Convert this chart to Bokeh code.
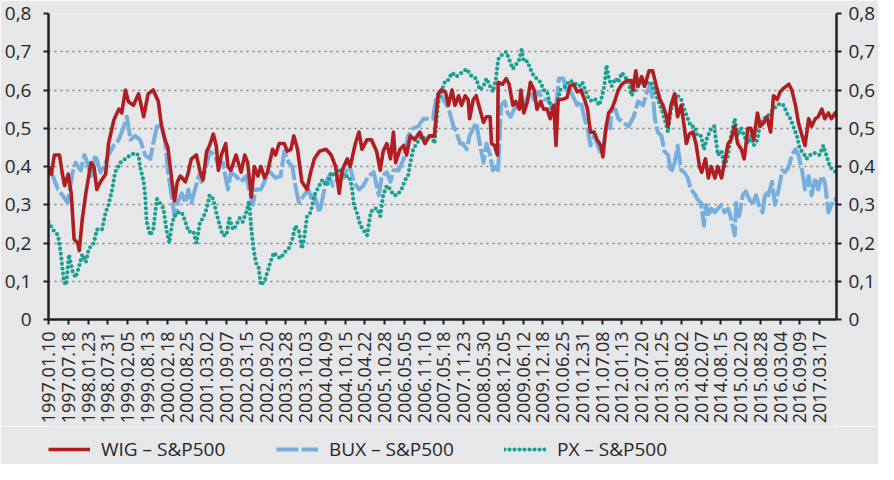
from bokeh.plotting import figure
from bokeh.layouts import column
from bokeh.models import (Range1d, LinearAxis, FixedTicker, CustomJSTickFormatter,
                          Legend, LegendItem)
from bokeh.embed import file_html
from bokeh.resources import INLINE

# ---------------- data (week index from 1997.01.10, value) ----------------
tick_labels = ["1997.01.10", "1997.07.18", "1998.01.23", "1998.07.31", "1999.02.05",
               "1999.08.13", "2000.02.18", "2000.08.25", "2001.03.02", "2001.09.07",
               "2002.03.15", "2002.09.20", "2003.03.28", "2003.10.03", "2004.04.09",
               "2004.10.15", "2005.04.22", "2005.10.28", "2006.05.05", "2006.11.10",
               "2007.05.18", "2007.11.23", "2008.05.30", "2008.12.05", "2009.06.12",
               "2009.12.18", "2010.06.25", "2010.12.31", "2011.07.08", "2012.01.13",
               "2012.07.20", "2013.01.25", "2013.08.02", "2014.02.07", "2014.08.15",
               "2015.02.20", "2015.08.28", "2016.03.04", "2016.09.09", "2017.03.17"]
weeks_between_labels = 27
last_week = 1076

wig_week = [0, 4, 8, 15, 19, 22, 27, 31, 35, 40, 42, 46, 51, 58, 62, 66, 71, 78, 82, 89, 96, 100,
            105, 109, 116, 123, 130, 136, 143, 150, 154, 159, 163, 168, 172,
            176, 180, 187, 191, 195, 202, 207, 211, 216, 220, 225, 229, 232, 236, 242, 245, 249,
            256, 263, 268, 272, 277, 281, 286, 290, 295, 299, 306, 310, 315, 322, 326, 331, 335,
            340, 346, 353,
            358, 363, 370, 379, 386, 392, 397, 401, 408, 412, 419, 424, 428, 435, 441, 448, 453,
            457, 462, 467, 471, 474, 480, 485, 489, 494, 500, 507, 514, 520, 527, 532, 536,
            542, 546, 551, 555, 560, 564, 569, 573, 575, 580, 584, 589, 594, 598, 603, 605, 609,
            613, 614, 620, 625, 629, 634, 638, 643, 645, 649, 654, 658, 663, 667, 672, 676, 681,
            685, 690, 693, 696, 701, 708, 712, 717,
            722, 727, 732, 736, 740, 745, 749, 754, 757, 761, 765, 769, 774, 778, 783, 790, 796,
            798, 802, 805, 810, 814, 820, 825, 830, 835, 839, 844, 846, 850, 855, 859, 864, 868,
            871, 875, 880, 884, 889, 892,
            897, 901, 905, 910, 914, 919, 923, 928, 932, 937, 941, 946, 950, 955, 959, 963, 968,
            972, 977, 981, 986, 990, 995, 999, 1004, 1011, 1015, 1020, 1024, 1029, 1033, 1038,
            1042, 1047, 1051, 1056, 1060, 1065, 1069, 1074, 1076]
wig_value = [0.40, 0.38, 0.43, 0.43, 0.38, 0.35, 0.38, 0.33, 0.21, 0.20, 0.18, 0.26, 0.33, 0.41,
             0.40, 0.34, 0.36, 0.38, 0.46, 0.52, 0.55, 0.54, 0.60, 0.57, 0.56, 0.59, 0.53, 0.59,
             0.60, 0.57, 0.51, 0.47, 0.45, 0.37, 0.31,
             0.36, 0.375, 0.36, 0.385, 0.42, 0.43, 0.385, 0.365, 0.44, 0.455, 0.485, 0.455, 0.39,
             0.43, 0.46, 0.40, 0.39, 0.43, 0.385, 0.43, 0.41, 0.32, 0.40, 0.375, 0.40, 0.37,
             0.385, 0.445, 0.43, 0.46, 0.46, 0.44, 0.445, 0.48, 0.445, 0.36, 0.34,
             0.385, 0.42, 0.44, 0.445, 0.43, 0.40, 0.33, 0.39, 0.42, 0.40, 0.46, 0.49, 0.445,
             0.47, 0.47, 0.44, 0.39, 0.44, 0.46, 0.42, 0.49, 0.41, 0.445, 0.455, 0.43, 0.48, 0.47,
             0.49, 0.46, 0.48, 0.48, 0.59, 0.60,
             0.595, 0.56, 0.60, 0.56, 0.585, 0.56, 0.585, 0.575, 0.525, 0.575, 0.585, 0.55, 0.515,
             0.53, 0.53, 0.46, 0.455, 0.43, 0.62, 0.615, 0.63, 0.615, 0.56, 0.57, 0.55, 0.60,
             0.54, 0.57, 0.62, 0.60, 0.55, 0.57, 0.55, 0.55, 0.525, 0.56, 0.455, 0.575, 0.575,
             0.58, 0.61, 0.615,
             0.595, 0.60, 0.575, 0.55, 0.49, 0.49, 0.47, 0.455, 0.425, 0.50, 0.54, 0.55, 0.575,
             0.60, 0.615, 0.625, 0.625, 0.60, 0.65, 0.61, 0.635, 0.61, 0.65, 0.65, 0.61, 0.575,
             0.56, 0.53, 0.505, 0.56, 0.59, 0.53, 0.56, 0.505, 0.46, 0.485, 0.49, 0.46, 0.40, 0.385,
             0.42, 0.37, 0.40, 0.37, 0.40, 0.37, 0.41, 0.46, 0.47, 0.505, 0.46, 0.445, 0.42, 0.50,
             0.50, 0.47, 0.54, 0.505, 0.515, 0.53, 0.49, 0.585, 0.575, 0.595, 0.605, 0.615, 0.60,
             0.56, 0.515, 0.48, 0.455, 0.525, 0.505, 0.525, 0.53, 0.55, 0.525, 0.54, 0.525, 0.54,
             0.53]

bux_week = [0, 6, 13, 19, 26, 33, 37, 44, 49, 53, 58, 64, 71, 76, 82, 89, 96, 103, 107, 112, 118,
            125, 132, 139, 143, 148, 154, 159, 163, 168, 172, 177,
            182, 187, 191, 195, 200, 205, 209, 214, 220, 227, 232, 238, 245, 249, 256, 263, 270,
            274, 279, 283, 290, 297, 303, 310, 317, 322, 328, 333, 337, 342, 349, 355,
            360, 363, 370, 374, 379, 383, 388, 392, 397, 403, 410, 417, 424, 430, 437, 444, 451,
            455, 462, 467, 471, 478, 485, 491, 498, 505, 512, 518, 525, 529, 534, 539,
            544, 548, 553, 557, 562, 566, 571, 575, 580, 584, 589, 594, 598, 603, 607, 611, 614,
            618, 623, 627, 631, 636, 640, 645, 649, 654, 658, 663, 669, 676, 681, 687, 692, 697,
            703, 708, 712, 717,
            722, 727, 732, 736, 740, 745, 749, 754, 758, 763, 767, 769, 774, 778, 785, 792, 799,
            805, 812, 817, 821, 826, 828, 832, 837, 841, 846, 850, 855, 859, 864, 868, 873, 877,
            882, 886, 891, 895, 898,
            901, 905, 910, 914, 919, 923, 928, 932, 937, 939, 943, 948, 952, 957, 961, 966, 970,
            975, 979, 983, 988, 992, 997, 1002, 1006, 1011, 1015, 1020, 1024, 1029, 1033, 1038,
            1042, 1047, 1051, 1056, 1060, 1065, 1069, 1074, 1076]
bux_value = [0.39, 0.375, 0.34, 0.325, 0.305, 0.385, 0.41, 0.39, 0.43, 0.41, 0.375, 0.43, 0.385,
             0.40, 0.43, 0.455, 0.47, 0.505, 0.53, 0.47, 0.48, 0.47, 0.43, 0.42, 0.46, 0.505,
             0.505, 0.47, 0.39, 0.325, 0.27, 0.31,
             0.33, 0.305, 0.34, 0.305, 0.34, 0.375, 0.36, 0.39, 0.44, 0.43, 0.40, 0.41, 0.34,
             0.385, 0.375, 0.36, 0.375, 0.34, 0.30, 0.34, 0.34, 0.37, 0.385, 0.37, 0.375, 0.44,
             0.41, 0.40, 0.35, 0.305, 0.325, 0.34,
             0.31, 0.325, 0.28, 0.315, 0.36, 0.375, 0.35, 0.36, 0.375, 0.37, 0.41, 0.36, 0.34,
             0.35, 0.375, 0.385, 0.325, 0.375, 0.385, 0.36, 0.39, 0.39, 0.42, 0.48, 0.50, 0.505,
             0.525, 0.525, 0.525, 0.575, 0.595, 0.575,
             0.56, 0.54, 0.505, 0.49, 0.46, 0.46, 0.445, 0.48, 0.50, 0.515, 0.46, 0.41, 0.46, 0.43,
             0.39, 0.40, 0.39, 0.56, 0.57, 0.54, 0.53, 0.55, 0.56, 0.575, 0.56, 0.58, 0.595,
             0.575, 0.595, 0.575, 0.575, 0.56, 0.54, 0.63, 0.63, 0.595, 0.60, 0.58,
             0.56, 0.57, 0.525, 0.50, 0.455, 0.48, 0.46, 0.435, 0.46, 0.515, 0.50, 0.55, 0.55,
             0.525, 0.515, 0.505, 0.53, 0.57, 0.56, 0.595, 0.61, 0.57, 0.525, 0.49, 0.48, 0.44,
             0.43, 0.385, 0.41, 0.455, 0.39, 0.385, 0.37, 0.34, 0.33, 0.315, 0.305, 0.245, 0.30,
             0.27, 0.29, 0.28, 0.29, 0.30, 0.28, 0.29, 0.265, 0.22, 0.305, 0.27, 0.325, 0.335,
             0.315, 0.30, 0.325, 0.30, 0.28, 0.335, 0.325, 0.36, 0.30, 0.34, 0.39, 0.385, 0.40,
             0.43, 0.445, 0.43, 0.39, 0.34, 0.375, 0.325, 0.37, 0.34, 0.375, 0.36, 0.28, 0.30,
             0.315, 0.31]

px_week = [0, 6, 13, 17, 21, 24, 28, 33, 37, 42, 46, 51, 55, 62, 66, 73, 78, 82, 87, 91, 98, 105,
           112, 118, 123, 125, 130, 132, 134, 139, 143, 148, 152, 157, 161, 165, 169, 175,
           182, 187, 191, 198, 202, 207, 211, 216, 220, 225, 229, 234, 238, 243, 247, 252, 256,
           261, 265, 270, 274, 277, 280, 283, 287, 290, 295, 299, 303, 308, 312, 317, 322, 328,
           333, 337, 342, 346, 349, 353, 358,
           363, 367, 374, 380, 386, 390, 397, 403, 410, 414, 417, 421, 426, 430, 435, 440, 444,
           449, 453, 457, 462, 467, 471, 476, 482, 487, 491, 494, 498, 503, 509, 516, 523, 527,
           532, 536, 541,
           544, 551, 557, 564, 571, 578, 584, 589, 594, 598, 603, 607, 611, 614, 618, 625, 629,
           634, 638, 643, 646, 649, 654, 658, 663, 667, 672, 676, 681, 685, 690, 694, 699, 706,
           712, 717,
           725, 729, 734, 738, 743, 747, 752, 756, 759, 762, 765, 769, 774, 778, 783, 787, 792,
           796, 801, 805, 810, 814, 819, 823, 828, 832, 837, 841, 846, 850, 855, 859, 864, 868,
           873, 877, 882, 886, 891, 895, 900, 903,
           905, 909, 912, 914, 919, 923, 928, 932, 937, 941, 946, 950, 955, 959, 963, 968, 972,
           977, 981, 986, 990, 995, 999, 1004, 1008, 1013, 1017, 1022, 1026, 1031, 1035, 1040,
           1044, 1049, 1053, 1058, 1062, 1067, 1071, 1076]
px_value = [0.255, 0.235, 0.22, 0.17, 0.10, 0.09, 0.17, 0.125, 0.11, 0.14, 0.17, 0.15, 0.185, 0.20,
            0.235, 0.235, 0.28, 0.30, 0.34, 0.385, 0.41, 0.42, 0.43, 0.435, 0.43, 0.40, 0.36,
            0.325, 0.255, 0.22, 0.235, 0.315, 0.305, 0.29, 0.235, 0.20, 0.255, 0.28,
            0.28, 0.255, 0.23, 0.23, 0.20, 0.255, 0.265, 0.29, 0.325, 0.315, 0.28, 0.245, 0.22,
            0.22, 0.265, 0.235, 0.245, 0.265, 0.255, 0.28, 0.31, 0.235, 0.185, 0.15, 0.135, 0.09,
            0.10, 0.125, 0.15, 0.175, 0.165, 0.16, 0.175, 0.185, 0.21, 0.245, 0.23, 0.185, 0.21,
            0.27, 0.28,
            0.325, 0.34, 0.365, 0.35, 0.385, 0.375, 0.39, 0.375, 0.375, 0.35, 0.30, 0.28, 0.245,
            0.235, 0.22, 0.28, 0.29, 0.29, 0.27, 0.325, 0.35, 0.34, 0.325, 0.325, 0.34, 0.365,
            0.375, 0.41, 0.445, 0.46, 0.48, 0.47, 0.48, 0.46, 0.565, 0.595, 0.62,
            0.62, 0.645, 0.635, 0.645, 0.655, 0.635, 0.63, 0.60, 0.61, 0.63, 0.61, 0.595, 0.63,
            0.68, 0.69, 0.70, 0.68, 0.655, 0.665, 0.68, 0.705, 0.675, 0.675, 0.655, 0.635, 0.63,
            0.62, 0.60, 0.595, 0.56, 0.54, 0.56, 0.60, 0.61, 0.625, 0.62,
            0.61, 0.62, 0.595, 0.575, 0.57, 0.575, 0.56, 0.585, 0.61, 0.665, 0.63, 0.61, 0.63,
            0.62, 0.645, 0.635, 0.62, 0.585, 0.60, 0.61, 0.62, 0.61, 0.62, 0.62, 0.595, 0.575,
            0.55, 0.525, 0.49, 0.55, 0.57, 0.585, 0.575, 0.55, 0.525, 0.505, 0.505, 0.48, 0.48,
            0.445, 0.48, 0.49,
            0.50, 0.505, 0.46, 0.43, 0.44, 0.40, 0.43, 0.48, 0.525, 0.48, 0.50, 0.48, 0.46, 0.48,
            0.455, 0.47, 0.515, 0.525, 0.53, 0.54, 0.55, 0.56, 0.565, 0.56, 0.54, 0.525, 0.505,
            0.48, 0.445, 0.435, 0.42, 0.43, 0.435, 0.435, 0.43, 0.455, 0.43, 0.40, 0.39, 0.385]

y_ticks = [0, 0.1, 0.2, 0.3, 0.4, 0.5, 0.6, 0.7, 0.8]
series_labels = ["WIG – S&P500", "BUX – S&P500", "PX – S&P500"]

# ---------------- styling ----------------
BG = "#E6E7E9"
TXT = "#262626"
AX = "#231F20"
RED = "#AF1E23"
BLUE = "#76AFDE"
TEAL = "#1AA091"
FONT = "Open Sans"
W = 878

p = figure(width=W, height=426, output_backend="svg", toolbar_location=None,
           x_range=Range1d(0, last_week), y_range=Range1d(0, 0.8),
           background_fill_color=BG, border_fill_color=BG, outline_line_color=None,
           min_border_left=48, min_border_right=38, min_border_top=13, min_border_bottom=0,
           x_axis_location=None, y_axis_location=None)

x_ticks = [i * weeks_between_labels for i in range(len(tick_labels))]
xaxis = LinearAxis(ticker=FixedTicker(ticks=x_ticks),
                   major_label_overrides={t: lab for t, lab in zip(x_ticks, tick_labels)})
yformatter = CustomJSTickFormatter(
    code="return Math.abs(tick) < 1e-9 ? '0' : tick.toFixed(1).replace('.', ',');")
yaxis_l = LinearAxis(ticker=FixedTicker(ticks=y_ticks), formatter=yformatter)
yaxis_r = LinearAxis(ticker=FixedTicker(ticks=y_ticks), formatter=yformatter)

for ax in (xaxis, yaxis_l, yaxis_r):
    ax.axis_line_color = AX
    ax.axis_line_width = 2.5
    ax.major_tick_line_color = AX
    ax.major_tick_line_width = 2
    ax.major_tick_in = 0
    ax.major_tick_out = 5
    ax.minor_tick_line_color = None
    ax.major_label_text_color = TXT
    ax.major_label_text_font = FONT
xaxis.major_label_text_font_size = "18px"
xaxis.major_label_orientation = 3.14159265 / 2
xaxis.major_label_standoff = 7
for ax in (yaxis_l, yaxis_r):
    ax.major_label_text_font_size = "19px"
yaxis_l.major_label_standoff = 12
yaxis_r.major_label_standoff = 7

p.add_layout(xaxis, "below")
p.add_layout(yaxis_l, "left")
p.add_layout(yaxis_r, "right")

p.xgrid.grid_line_color = None
p.ygrid.ticker = FixedTicker(ticks=y_ticks)
p.ygrid.grid_line_color = "#7F7F7F"
p.ygrid.grid_line_dash = "2 4"
p.ygrid.grid_line_width = 1.3

styles = [dict(line_color=RED, line_width=3.6, line_join="round"),
          dict(line_color=BLUE, line_width=4, line_dash="22 3", line_join="round"),
          dict(line_color=TEAL, line_width=4.2, line_dash="0 5", line_cap="round",
               line_join="round")]
series = [(wig_week, wig_value), (bux_week, bux_value), (px_week, px_value)]

p.line(*series[1], **styles[1])
p.line(*series[2], **styles[2])
p.line(*series[0], **styles[0])

# ---------------- legend strip (below the chart) ----------------
leg = figure(width=W, height=38, output_backend="svg", toolbar_location=None,
             x_range=Range1d(0, 1), y_range=Range1d(0, 1),
             background_fill_color=BG, border_fill_color=BG, outline_line_color=None,
             min_border=0, x_axis_location=None, y_axis_location=None)
leg.xgrid.visible = False
leg.ygrid.visible = False
# legend keys bound to the same series; hidden, so they draw nothing in this strip
keys = [leg.line(*s, visible=False, **st) for s, st in zip(series, styles)]

legend = Legend(items=[LegendItem(label=lab, renderers=[r])
                       for lab, r in zip(series_labels, keys)],
                orientation="horizontal", location=(0, 2),
                background_fill_alpha=0, border_line_color=None,
                inactive_fill_alpha=0, click_policy="none",
                glyph_width=42, glyph_height=20, label_standoff=11, label_width=175,
                spacing=0, padding=2, margin=0,
                label_text_font=FONT, label_text_font_size="19px", label_text_color=TXT)
leg.add_layout(legend, "center")

open("out.html", "w").write(file_html(column(p, leg, spacing=0), INLINE))
